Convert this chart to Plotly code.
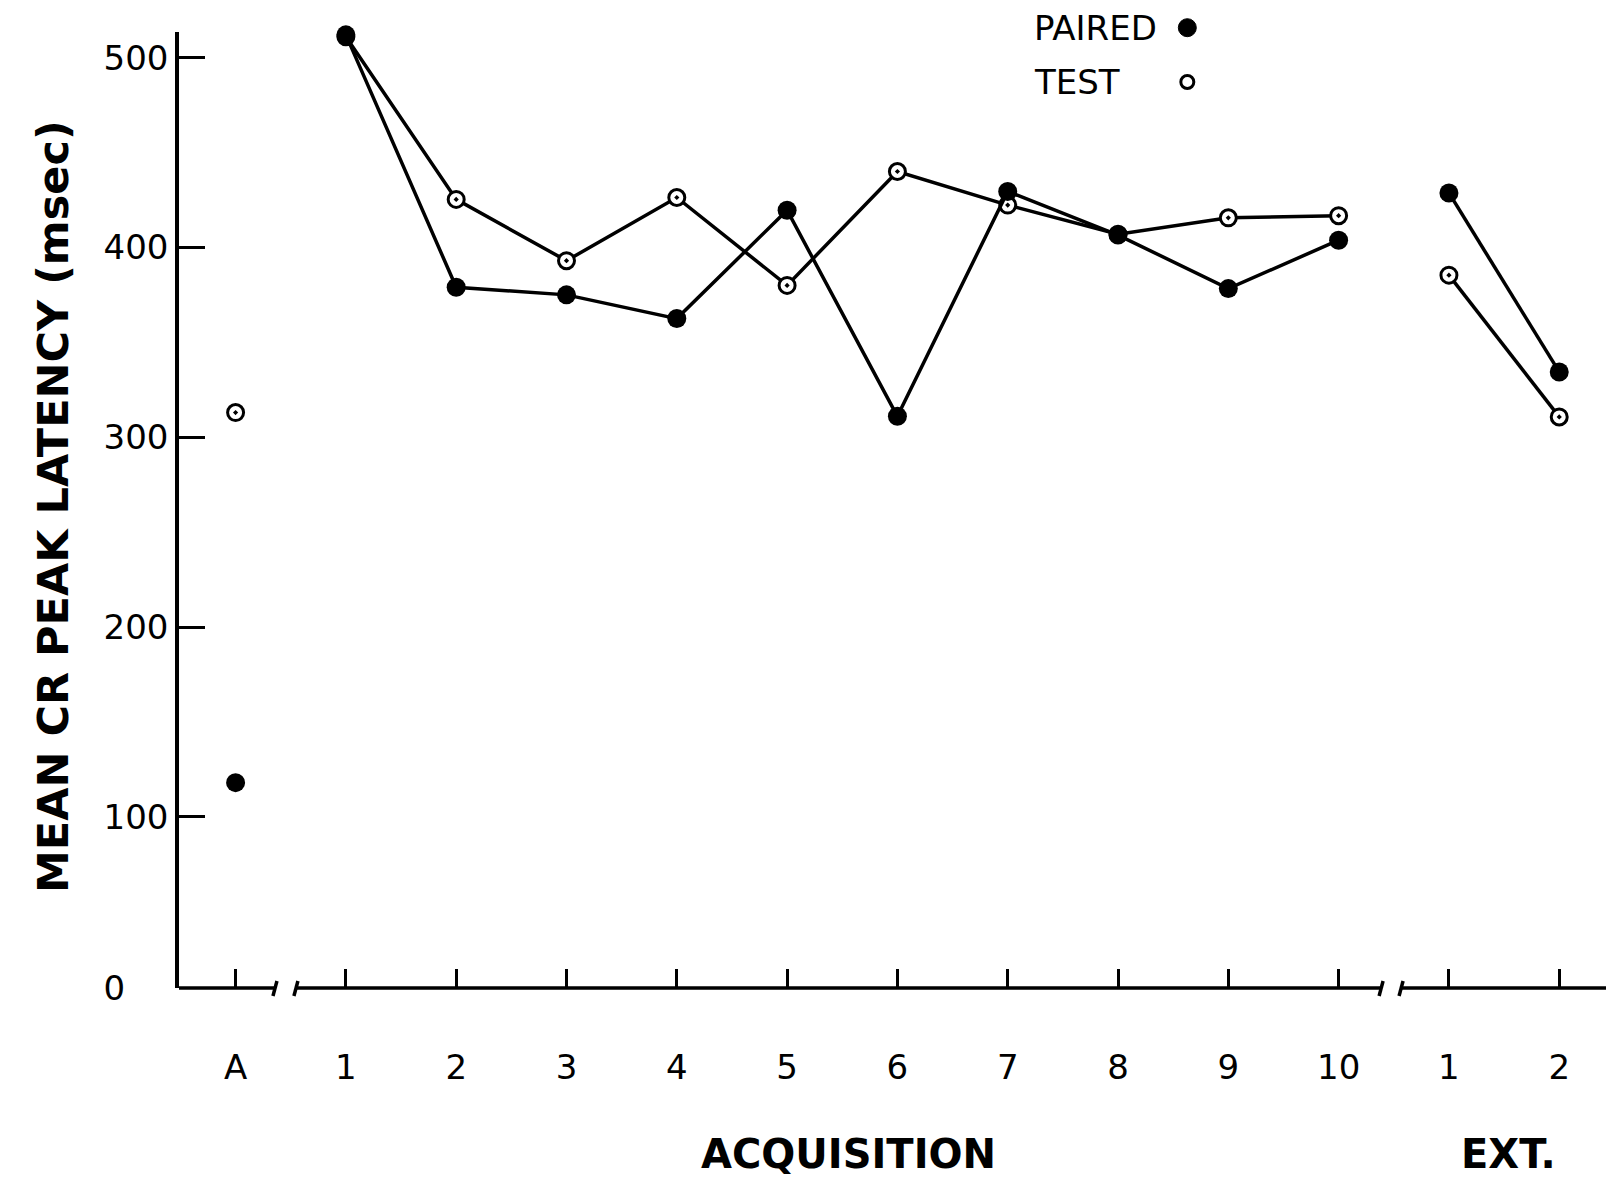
import plotly.graph_objects as go

# ---- data ----
tick_labels = ["A", "1", "2", "3", "4", "5", "6", "7", "8", "9", "10", "1", "2"]
positions = list(range(len(tick_labels)))  # A, acquisition 1-10, extinction 1-2

paired_a = 118
paired_acq = [512, 379, 375, 362.5, 419.6, 311, 429.5, 406.5, 378.3, 403.8]
paired_ext = [428.7, 334.4]

test_a = 313
test_acq = [511, 425.3, 393, 426.3, 380, 440, 422.3, 407, 415.6, 416.7]
test_ext = [385.4, 310.7]

y_ticks = [100, 200, 300, 400, 500]
y_bottom = 9.8   # value where the (truncated) axis sits; labelled "0" in the original
y_top = 513.5


def series(a, acq, ext):
    # None breaks the line between segments (A | acquisition | extinction)
    return [a, None] + acq + [None] + ext


def xs():
    return [positions[0], None] + positions[1:11] + [None] + positions[11:13]


fig = go.Figure()

fig.add_trace(go.Scatter(
    x=xs(), y=series(test_a, test_acq, test_ext),
    mode="lines+markers", connectgaps=False, cliponaxis=False,
    line=dict(color="black", width=3.5),
    marker=dict(symbol="circle-dot", size=16, color="white",
                line=dict(color="black", width=3)),
    showlegend=False, name="TEST"))

fig.add_trace(go.Scatter(
    x=xs(), y=series(paired_a, paired_acq, paired_ext),
    mode="lines+markers", connectgaps=False, cliponaxis=False,
    line=dict(color="black", width=3.5),
    marker=dict(symbol="circle", size=19, color="black"),
    showlegend=False, name="PAIRED"))

x_left, x_right = -0.513, 12.424
brk1 = (0.357, 0.547)
brk2 = (10.385, 10.566)

shapes = []
# broken x axis
for a, b in [(x_left, brk1[0]), (brk1[1], brk2[0]), (brk2[1], x_right)]:
    shapes.append(dict(type="line", xref="x", yref="paper", x0=a, x1=b, y0=0, y1=0,
                       line=dict(color="black", width=3.5)))
for anchor in [brk1[0], brk1[1], brk2[0], brk2[1]]:
    shapes.append(dict(type="line", xref="x", yref="paper",
                       xsizemode="pixel", ysizemode="pixel",
                       xanchor=anchor, yanchor=0,
                       x0=2, y0=7, x1=-2, y1=-8,
                       line=dict(color="black", width=3.5)))

# legend symbols (symbol to the right of the label, as in the original)
plot_h = 1179 - 32 - 191
def py(px):  # page pixel row -> paper y
    return (1179 - 191 - px) / plot_h

shapes.append(dict(type="circle", xref="paper", yref="paper",
                   xsizemode="pixel", ysizemode="pixel",
                   xanchor=0.7066, yanchor=py(27.7),
                   x0=-9, x1=9, y0=-9, y1=9,
                   fillcolor="black", line=dict(color="black", width=1)))
shapes.append(dict(type="circle", xref="paper", yref="paper",
                   xsizemode="pixel", ysizemode="pixel",
                   xanchor=0.7066, yanchor=py(82),
                   x0=-6.5, x1=6.5, y0=-6.5, y1=6.5,
                   fillcolor="white", line=dict(color="black", width=3)))

tick_font = dict(family="DejaVu Sans", size=34, color="black")
title_font = dict(family="DejaVu Sans", size=40, color="black", weight="bold")
legend_font = dict(family="DejaVu Sans", size=34, color="black")

annotations = [
    dict(text="PAIRED", x=0.598, y=py(27.7), xref="paper", yref="paper",
         xanchor="left", yanchor="middle", showarrow=False, font=legend_font),
    dict(text="TEST", x=0.598, y=py(82), xref="paper", yref="paper",
         xanchor="left", yanchor="middle", showarrow=False, font=legend_font),
    dict(text="ACQUISITION", x=5.56, y=py(1154), xref="x", yref="paper",
         xanchor="center", yanchor="middle", showarrow=False, font=title_font),
    dict(text="EXT.", x=11.54, y=py(1154), xref="x", yref="paper",
         xanchor="center", yanchor="middle", showarrow=False, font=title_font),
    dict(text="MEAN CR PEAK LATENCY (msec)", x=(53 - 179) / (1606 - 179), y=py(507),
         xref="paper", yref="paper", textangle=-90,
         xanchor="center", yanchor="middle", showarrow=False,
         font=dict(family="DejaVu Sans", size=43, color="black", weight="bold")),
]

fig.update_layout(
    width=1606, height=1179,
    margin=dict(l=179, r=0, t=32, b=191),
    paper_bgcolor="white", plot_bgcolor="white",
    shapes=shapes, annotations=annotations,
    xaxis=dict(range=[x_left, x_right], tickmode="array",
               tickvals=positions, ticktext=tick_labels,
               ticks="inside", ticklen=19, tickwidth=3, tickcolor="black",
               showline=False, showgrid=False, zeroline=False,
               tickfont=tick_font, ticklabelstandoff=56),
    yaxis=dict(range=[y_bottom, y_top], tickmode="array",
               tickvals=[y_bottom] + y_ticks,
               ticktext=["0" + "\u00a0" * 4] + [str(v) for v in y_ticks],
               ticks="inside", ticklen=26, tickwidth=3, tickcolor="black",
               showline=True, linewidth=3.5, linecolor="black",
               showgrid=False, zeroline=False,
               tickfont=tick_font, ticklabelstandoff=0),
)

fig.write_html("out.html")
